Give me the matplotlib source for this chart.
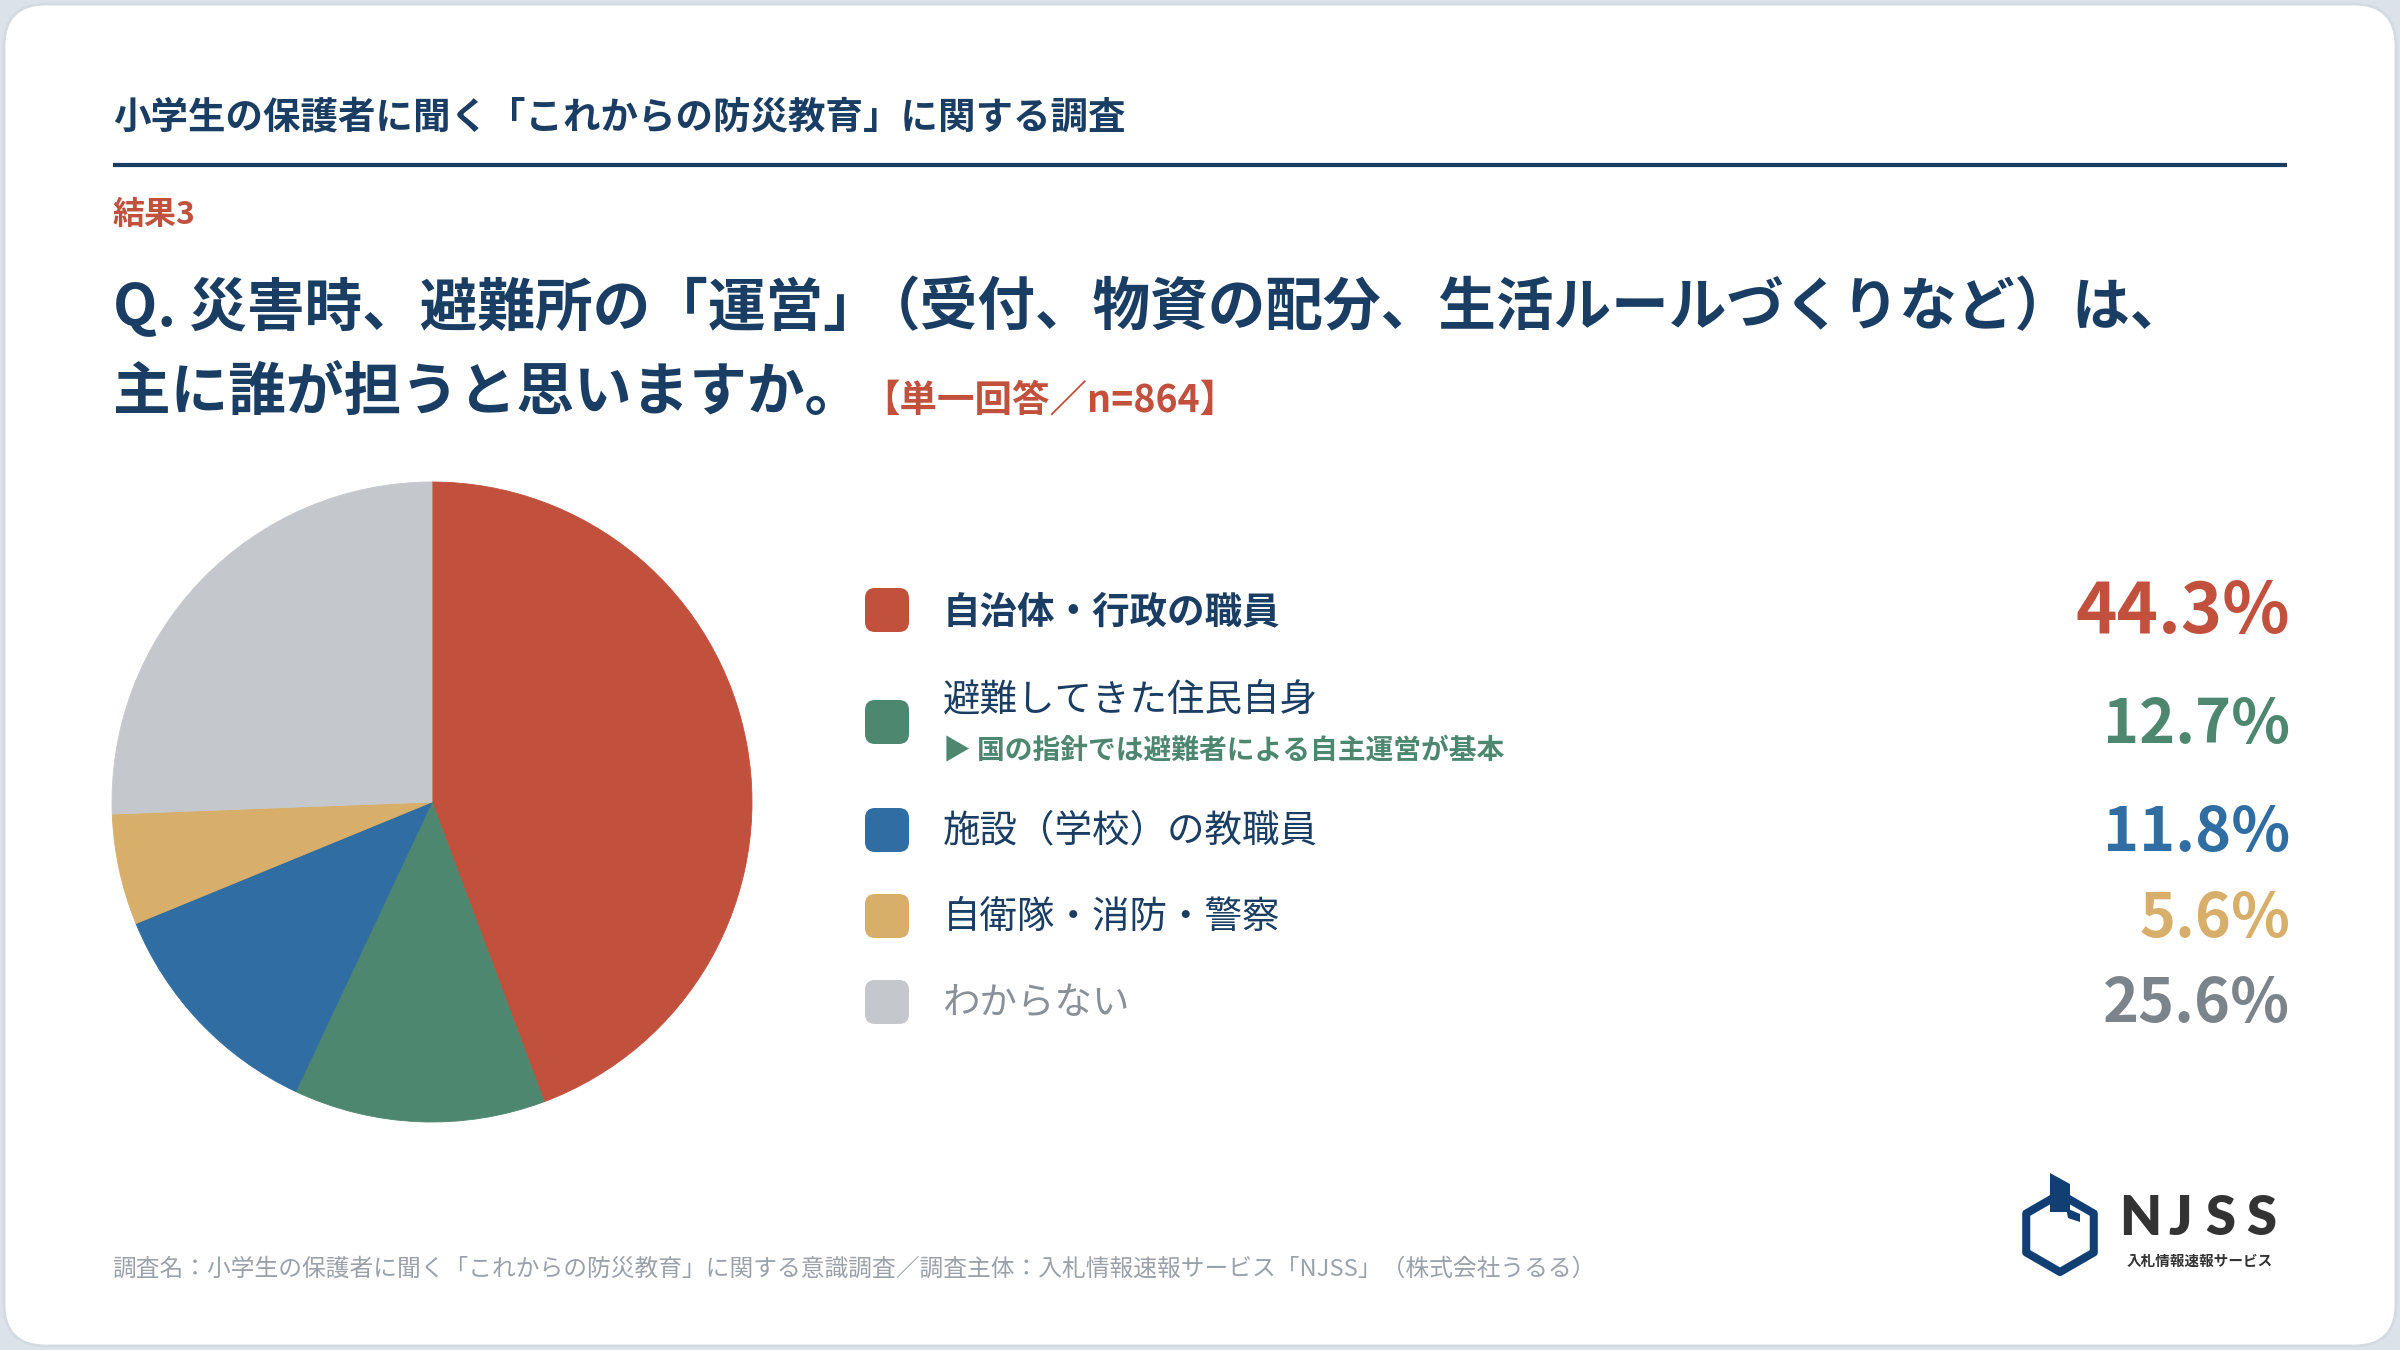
import numpy as np
import matplotlib
matplotlib.use("Agg")
import matplotlib.pyplot as plt
from matplotlib.patches import FancyBboxPatch, Polygon

plt.rcParams['font.family'] = ['Noto Sans CJK JP', 'DejaVu Sans']

# data
header = "小学生の保護者に聞く「これからの防災教育」に関する調査"
result_tag = "結果3"
question1a = "Q. 災害時、避難所の「運営」"
question1b = "（受付、物資の配分、生活ルールづくりなど）は、"
question2 = "主に誰が担うと思いますか。"
answer_note = "【単一回答／n=864】"
labels = ["自治体・行政の職員", "避難してきた住民自身", "施設（学校）の教職員",
          "自衛隊・消防・警察", "わからない"]
values = [44.3, 12.7, 11.8, 5.6, 25.6]
sub_note = "▶ 国の指針では避難者による自主運営が基本"
footer = ("調査名：小学生の保護者に聞く「これからの防災教育」に関する意識調査／"
          "調査主体：入札情報速報サービス「NJSS」（株式会社うるる）")

navy = "#1a3d64"
red = "#c1503c"
colors = [red, "#4d8770", "#2f6da3", "#d8ae6b", "#c4c8cc"]
pct_colors = [red, "#4d8770", "#2f6da3", "#d8ae6b", "#7b838b"]
label_colors = [navy, navy, navy, navy, "#8a9097"]

W, H = 2400, 1350
fig = plt.figure(figsize=(24, 13.5), dpi=100)
fig.patch.set_facecolor("#dbe2ea")

bg = fig.add_axes([0, 0, 1, 1])
bg.set_xlim(0, W)
bg.set_ylim(H, 0)
bg.axis("off")

card = FancyBboxPatch((4, 4), W - 8, H - 8, boxstyle="round,pad=0,rounding_size=42",
                      facecolor="white", edgecolor="#d3dae2", linewidth=2)
bg.add_patch(card)

# header
bg.text(113, 117, header, fontsize=27, fontweight="bold", color=navy, va="center")
bg.plot([113, 2287], [165, 165], color=navy, linewidth=3, solid_capstyle="butt")
bg.text(113, 215, result_tag, fontsize=23, fontweight="bold", color=red, va="center")
bg.text(113, 308, question1a, fontsize=41.5, fontweight="bold", color=navy, va="center")
bg.text(863, 308, question1b, fontsize=41.5, fontweight="bold", color=navy, va="center")
bg.text(113, 393, question2, fontsize=41.5, fontweight="bold", color=navy, va="center")
bg.text(862, 400, answer_note, fontsize=27, fontweight="bold", color=red, va="center")

# pie
cx, cy, r = 432, 802, 320
ax = fig.add_axes([(cx - r) / W, (H - cy - r) / H, 2 * r / W, 2 * r / H])
wedges, _ = ax.pie(values, colors=colors, startangle=90, counterclock=False, radius=1)
for w, c in zip(wedges, colors):
    w.set_edgecolor(c)
    w.set_linewidth(0.6)
ax.set_xlim(-1, 1)
ax.set_ylim(-1, 1)
ax.axis("off")

# legend rows
sq_y = [610, 722, 830, 916, 1002]
lab_y = [612, 700, 831, 917, 1003]
pct_y = [613, 725, 833, 919, 1004]
for i, (lab, v) in enumerate(zip(labels, values)):
    sq = FancyBboxPatch((865, sq_y[i] - 22), 44, 44, boxstyle="round,pad=0,rounding_size=10",
                        facecolor=colors[i], edgecolor="none")
    bg.add_patch(sq)
    bg.text(943, lab_y[i], lab, fontsize=27, color=label_colors[i], va="center",
            fontweight="bold" if i == 0 else "normal")
    bg.text(2290, pct_y[i], f"{v:.1f}%", fontsize=50.5 if i == 0 else 44,
            fontweight="bold", color=pct_colors[i], ha="right", va="center")
bg.text(943, 751, sub_note, fontsize=20, fontweight="bold", color=colors[1], va="center")

# footer
bg.text(112, 1269, footer, fontsize=17.1, color="#9aa1a9", va="center")

# logo
hx, hy, hr = 2060, 1233, 39
ang = np.deg2rad(np.arange(90, 450, 60))
hexagon = Polygon(np.c_[hx + hr * np.cos(ang), hy - hr * np.sin(ang)], closed=True,
                  fill=False, edgecolor="#123f73", linewidth=5.8, joinstyle="round")
bg.add_patch(hexagon)
flag = Polygon([[2050, 1173], [2070, 1184], [2070, 1212], [2050, 1212]], closed=True,
               facecolor="#123f73", edgecolor="none")
bg.add_patch(flag)
hook = Polygon([[2066, 1208], [2080, 1214], [2080, 1222], [2068, 1218]], closed=True,
               facecolor="#123f73", edgecolor="none")
bg.add_patch(hook)
for k, ch in enumerate("NJSS"):
    bg.text(2140 + k * 40.3, 1219, ch, fontsize=39, fontweight="heavy", color="#333333",
            ha="center", va="center", family=["Lato", "DejaVu Sans"])
bg.text(2200, 1261, "入札情報速報サービス", fontsize=10.5, fontweight="bold",
        color="#333333", ha="center", va="center")

fig.savefig("out.png", dpi=100, facecolor=fig.get_facecolor())
